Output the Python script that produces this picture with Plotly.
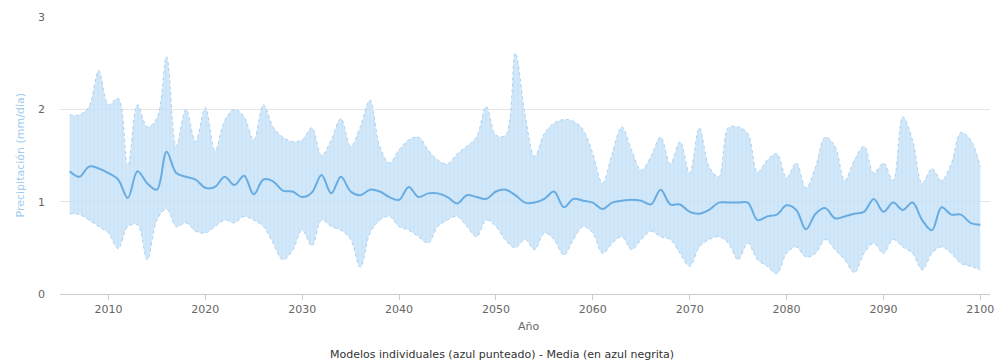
import plotly.graph_objects as go

years = list(range(2006, 2101))

upper = [1.94, 1.94, 2.03, 2.42, 2.05, 2.12, 1.38, 2.05, 1.81, 1.90,
         2.57, 1.60, 2.00, 1.65, 2.02, 1.55, 1.88, 2.00, 1.92, 1.67,
         2.05, 1.81, 1.70, 1.65, 1.67, 1.80, 1.50, 1.67, 1.90, 1.60,
         1.81, 2.10, 1.60, 1.42, 1.56, 1.67, 1.70, 1.56, 1.45, 1.41,
         1.52, 1.60, 1.70, 2.03, 1.72, 1.72, 2.61, 1.95, 1.49, 1.74,
         1.85, 1.89, 1.87, 1.78, 1.52, 1.20, 1.52, 1.81, 1.56, 1.34,
         1.49, 1.70, 1.41, 1.65, 1.31, 1.80, 1.38, 1.27, 1.80, 1.81,
         1.74, 1.32, 1.45, 1.52, 1.26, 1.42, 1.15, 1.38, 1.70, 1.60,
         1.23, 1.45, 1.60, 1.31, 1.42, 1.23, 1.92, 1.67, 1.20, 1.36,
         1.23, 1.41, 1.75, 1.67, 1.38]

lower = [0.87, 0.86, 0.80, 0.73, 0.66, 0.49, 0.73, 0.75, 0.37, 0.80,
         0.92, 0.73, 0.77, 0.68, 0.66, 0.73, 0.80, 0.77, 0.84, 0.80,
         0.73, 0.55, 0.37, 0.47, 0.69, 0.52, 0.80, 0.73, 0.69, 0.59,
         0.29, 0.66, 0.80, 0.84, 0.73, 0.69, 0.62, 0.55, 0.73, 0.80,
         0.84, 0.73, 0.62, 0.80, 0.73, 0.58, 0.50, 0.59, 0.48, 0.66,
         0.59, 0.42, 0.59, 0.73, 0.66, 0.44, 0.55, 0.62, 0.48, 0.59,
         0.68, 0.62, 0.59, 0.44, 0.30, 0.51, 0.59, 0.62, 0.55, 0.37,
         0.55, 0.37, 0.30, 0.22, 0.44, 0.51, 0.40, 0.44, 0.59, 0.48,
         0.37, 0.23, 0.44, 0.55, 0.44, 0.59, 0.51, 0.44, 0.26, 0.44,
         0.51, 0.44, 0.33, 0.30, 0.26]

mean = [1.33, 1.27, 1.38, 1.36, 1.31, 1.24, 1.04, 1.33, 1.20, 1.13,
        1.54, 1.31, 1.27, 1.24, 1.15, 1.16, 1.27, 1.18, 1.28, 1.08,
        1.24, 1.22, 1.12, 1.11, 1.05, 1.10, 1.29, 1.09, 1.27, 1.11,
        1.07, 1.13, 1.11, 1.05, 1.02, 1.16, 1.05, 1.09, 1.09, 1.05,
        0.98, 1.07, 1.05, 1.03, 1.11, 1.13, 1.07, 0.99, 0.99, 1.03,
        1.11, 0.94, 1.03, 1.01, 0.99, 0.92, 0.99, 1.01, 1.02, 1.01,
        0.97, 1.13, 0.97, 0.97, 0.89, 0.87, 0.91, 0.99, 0.99, 0.99,
        0.99, 0.80, 0.84, 0.86, 0.96, 0.91, 0.70, 0.87, 0.93, 0.82,
        0.84, 0.87, 0.89, 1.03, 0.89, 0.99, 0.91, 0.99, 0.80, 0.69,
        0.94, 0.86, 0.86, 0.77, 0.75]

x_ticks = list(range(2010, 2101, 10))
y_ticks = [0, 1, 2, 3]

FONT = "DejaVu Sans, Verdana, sans-serif"
edge = "rgba(165,204,240,0.9)"

fig = go.Figure()
fig.add_trace(go.Scatter(
    x=years, y=lower, mode="lines", line=dict(color=edge, width=1, dash="dot", shape="spline"),
    hoverinfo="skip", showlegend=False))
fig.add_trace(go.Scatter(
    x=years, y=upper, mode="lines", line=dict(color=edge, width=1, dash="dot", shape="spline"),
    fill="tonexty", fillcolor="rgba(200,227,248,0.85)",
    fillpattern=dict(shape="|", size=4, solidity=0.25, fgcolor="rgba(172,207,240,0.8)",
                     bgcolor="rgba(204,229,249,0.85)", fillmode="overlay"),
    hoverinfo="skip", showlegend=False))
fig.add_trace(go.Scatter(
    x=years, y=mean, mode="lines", line=dict(color="rgb(104,172,226)", width=2, shape="spline"),
    showlegend=False))

fig.update_layout(
    width=996, height=361,
    margin=dict(l=60, r=6, t=17, b=67, autoexpand=False),
    paper_bgcolor="white", plot_bgcolor="white",
    font=dict(family=FONT, size=11, color="#666666"),
    xaxis=dict(range=[2005, 2101], tickvals=x_ticks, showgrid=False, automargin=False,
               showline=True, linecolor="#cccccc", linewidth=1,
               ticks="outside", ticklen=5, tickcolor="#cccccc",
               tickfont=dict(size=11, color="#666666"), zeroline=False),
    yaxis=dict(range=[0, 3], tickvals=y_ticks, showgrid=True, gridcolor="#e6e6e6",
               automargin=False, zeroline=False, showline=False, ticks="",
               ticklabelstandoff=14, tickfont=dict(size=11, color="#666666")),
    annotations=[
        dict(text="Año", xref="paper", yref="paper", x=(528 - 60) / 930, y=-(326 - 294) / 277,
             xanchor="center", yanchor="middle", showarrow=False,
             font=dict(size=11, color="#666666", family=FONT)),
        dict(text="Precipitación (mm/día)", xref="paper", yref="paper", x=-(60 - 20) / 930,
             y=0.5, xanchor="center", yanchor="middle", textangle=-90, showarrow=False,
             font=dict(size=11, color="#9ecbee", family=FONT)),
        dict(text="Modelos individuales (azul punteado) - Media (en azul negrita)",
             xref="paper", yref="paper", x=(502 - 60) / 930, y=-(354 - 294) / 277,
             xanchor="center", yanchor="middle", showarrow=False,
             font=dict(size=11, color="#333333", family=FONT)),
    ],
)

fig.write_html("out.html", config={"displayModeBar": False},
               post_script="document.body.style.margin='0px';document.body.style.overflow='hidden';")
